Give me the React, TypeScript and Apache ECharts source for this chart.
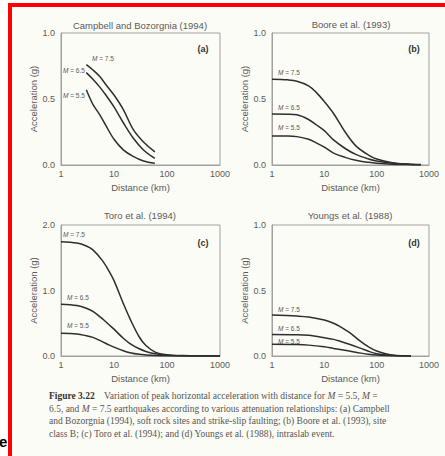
import React, { useEffect, useRef } from "react";
import * as echarts from "echarts";

// ---------- data ----------
const panelTitles = ["Campbell and Bozorgnia (1994)", "Boore et al. (1993)", "Toro et al. (1994)", "Youngs et al. (1988)"];
const panelLetters = ["(a)", "(b)", "(c)", "(d)"];
const magnitudes = ["7.5", "6.5", "5.5"];
const xTicks = [1, 10, 100, 1000];

// (a) Campbell and Bozorgnia (1994)
const cbDist = [3, 4, 5.4, 7, 10, 15, 23, 36, 59];
const cbM75 = [0.76, 0.72, 0.67, 0.61, 0.53, 0.42, 0.27, 0.175, 0.1];
const cbM65 = [0.7, 0.65, 0.59, 0.53, 0.44, 0.32, 0.205, 0.114, 0.05];
const cbM55 = [0.57, 0.46, 0.38, 0.3, 0.195, 0.115, 0.065, 0.03, 0.013];

// (b) Boore et al. (1993)
const boDist = [1, 2, 3, 5, 7, 10, 15, 25, 40, 70, 100, 200, 400, 700];
const boM75 = [0.65, 0.645, 0.635, 0.6, 0.55, 0.48, 0.39, 0.25, 0.145, 0.075, 0.045, 0.018, 0.007, 0.003];
const boM65 = [0.386, 0.385, 0.38, 0.345, 0.305, 0.26, 0.19, 0.125, 0.08, 0.045, 0.03, 0.014, 0.006, 0.002];
const boM55 = [0.22, 0.22, 0.215, 0.195, 0.168, 0.135, 0.09, 0.058, 0.036, 0.02, 0.013, 0.006, 0.003, 0.001];

// (c) Toro et al. (1994)
const toDist = [1, 2, 3, 4, 6, 8, 10, 15, 20, 30, 40, 60, 100, 200, 500, 1000];
const toM75 = [1.745, 1.725, 1.68, 1.62, 1.46, 1.3, 1.15, 0.8, 0.57, 0.29, 0.16, 0.06, 0.02, 0.006, 0.001, 0];
const toM65 = [0.79, 0.77, 0.73, 0.68, 0.57, 0.48, 0.41, 0.27, 0.19, 0.11, 0.07, 0.033, 0.012, 0.004, 0.001, 0];
const toM55 = [0.346, 0.335, 0.31, 0.285, 0.22, 0.17, 0.135, 0.08, 0.05, 0.025, 0.017, 0.009, 0.004, 0.001, 0, 0];

// (d) Youngs et al. (1988)
const yoDist = [1, 3, 5, 10, 15, 20, 30, 50, 70, 100, 150, 200, 300, 450];
const yoM75 = [0.313, 0.305, 0.298, 0.275, 0.25, 0.225, 0.18, 0.11, 0.07, 0.038, 0.017, 0.008, 0.002, 0];
const yoM65 = [0.165, 0.163, 0.158, 0.14, 0.127, 0.113, 0.09, 0.058, 0.036, 0.018, 0.008, 0.004, 0.001, 0];
const yoM55 = [0.089, 0.087, 0.083, 0.07, 0.058, 0.05, 0.038, 0.022, 0.013, 0.007, 0.003, 0.001, 0, 0];

const yMax = [1, 1, 2, 1];
const yInterval = [0.5, 0.5, 1, 0.5];

const captionLines = [
  "{b|Figure 3.22}    Variation of peak horizontal acceleration with distance for {i|M} = 5.5, {i|M} =",
  "6.5, and {i|M} = 7.5 earthquakes according to various attenuation relationships: (a) Campbell",
  "and Bozorgnia (1994), soft rock sites and strike-slip faulting; (b) Boore et al. (1993), site",
  "class B; (c) Toro et al. (1994); and (d) Youngs et al. (1988), intraslab event.",
];

const panels = [
  { dist: cbDist, curves: [cbM75, cbM65, cbM55] },
  { dist: boDist, curves: [boM75, boM65, boM55] },
  { dist: toDist, curves: [toM75, toM65, toM55] },
  { dist: yoDist, curves: [yoM75, yoM65, yoM55] },
];

// ---------- layout ----------
const grids = [
  { left: 61, top: 33, width: 159, height: 132 },
  { left: 272, top: 33, width: 157, height: 132 },
  { left: 61, top: 225, width: 159, height: 131 },
  { left: 272, top: 225, width: 157, height: 131 },
];
const titlePos = [
  [140, 25],
  [351, 24],
  [140, 215],
  [350, 215],
];
const letterPos = [
  [203, 49],
  [414, 49],
  [203, 243],
  [414, 243],
];
// label positions [x, y] (left, middle) for M = 7.5, 6.5, 5.5 in each panel
const mLabelPos = [
  [[92, 58], [63, 70], [63, 95]],
  [[278, 72], [278, 107], [278, 127]],
  [[63, 234], [67, 297], [67, 325]],
  [[278, 309], [278, 328], [278, 341]],
];

const SANS = "'Liberation Sans', Arial, Helvetica, sans-serif";
const SERIF = "'Liberation Serif', 'Times New Roman', serif";
const TXT = "#5a5a5a";
const CAP = 9.5;

export default function App() {
  const ref = useRef<HTMLDivElement>(null);
  useEffect(() => {
    if (!ref.current) return;
    const chart = echarts.init(ref.current, undefined, { renderer: "svg" });

    const xAxis = grids.map((_, i) => ({
      gridIndex: i,
      type: "log",
      logBase: 10,
      min: 1,
      max: 1000,
      name: "Distance (km)",
      nameLocation: "middle",
      nameGap: 17,
      nameTextStyle: { color: TXT, fontSize: 9.5, fontFamily: SANS },
      axisLine: { lineStyle: { color: "#a0a0a0", width: 1 } },
      axisTick: { show: false },
      minorTick: { show: false },
      splitLine: { show: false },
      axisLabel: {
        color: TXT,
        fontSize: 9,
        fontFamily: SANS,
        margin: 4,
        showMaxLabel: true,
        showMinLabel: true,
        formatter: (v: number) => (xTicks.includes(Math.round(v)) ? String(Math.round(v)) : ""),
      },
    }));

    const yAxis = grids.map((_, i) => ({
      gridIndex: i,
      type: "value",
      min: 0,
      max: yMax[i],
      interval: yInterval[i],
      name: "Acceleration (g)",
      nameLocation: "middle",
      nameRotate: 90,
      nameGap: 21,
      nameTextStyle: { color: TXT, fontSize: 9.5, fontFamily: SANS },
      axisLine: { show: true, lineStyle: { color: "#a0a0a0", width: 1 } },
      axisTick: { show: false },
      splitLine: { show: false },
      axisLabel: {
        color: TXT,
        fontSize: 9,
        fontFamily: SANS,
        margin: 6,
        formatter: (v: number) => v.toFixed(1),
      },
    }));

    const series: any[] = [];
    panels.forEach((p, i) => {
      p.curves.forEach((c, k) => {
        series.push({
          type: "line",
          name: `${panelLetters[i]} M=${magnitudes[k]}`,
          xAxisIndex: i,
          yAxisIndex: i,
          data: p.dist.map((d, j) => [d, c[j]]),
          showSymbol: false,
          smooth: 0.35,
          lineStyle: { color: "#2e2e2e", width: 1.5 },
          silent: true,
        });
      });
    });

    const graphic: any[] = [
      { type: "rect", z: -20, shape: { x: 12, y: 7, width: 433, height: 449 }, style: { fill: "#fcfcf6" } },
      { type: "rect", z: 10, shape: { x: 8, y: 3, width: 4, height: 453 }, style: { fill: "#ff0000" } },
      { type: "rect", z: 10, shape: { x: 8, y: 3, width: 437, height: 4 }, style: { fill: "#ff0000" } },
      {
        type: "text",
        z: 10,
        style: { x: -1, y: 441, text: "e", font: `bold 15px ${SANS}`, fill: "#000", verticalAlign: "middle" },
      },
    ];
    panelTitles.forEach((t, i) => {
      graphic.push({
        type: "text",
        style: {
          x: titlePos[i][0],
          y: titlePos[i][1],
          text: t,
          font: `9.5px ${SANS}`,
          fill: TXT,
          align: "center",
          verticalAlign: "middle",
        },
      });
      graphic.push({
        type: "text",
        style: {
          x: letterPos[i][0],
          y: letterPos[i][1],
          text: panelLetters[i],
          font: `bold 9px ${SANS}`,
          fill: "#333",
          align: "center",
          verticalAlign: "middle",
        },
      });
      magnitudes.forEach((m, k) => {
        graphic.push({
          type: "text",
          style: {
            x: mLabelPos[i][k][0],
            y: mLabelPos[i][k][1],
            text: `{i|M} = ${m}`,
            font: `6.5px ${SANS}`,
            fill: TXT,
            verticalAlign: "middle",
            rich: {
              i: { fontStyle: "italic", fontSize: 6.5, fontFamily: SANS, fill: TXT },
            },
          },
        });
      });
    });
    const capY = [396, 408.5, 421, 433.5];
    captionLines.forEach((line, i) => {
      graphic.push({
        type: "text",
        style: {
          x: 49,
          y: capY[i],
          text: line,
          font: `${CAP}px ${SERIF}`,
          fill: "#555",
          verticalAlign: "middle",
          rich: {
            b: { fontWeight: "bold", fontSize: CAP, fontFamily: SERIF, fill: "#333" },
            i: { fontStyle: "italic", fontSize: CAP, fontFamily: SERIF, fill: "#555" },
          },
        },
      });
    });

    chart.setOption({
      animation: false,
      backgroundColor: "#ffffff",
      grid: grids.map((g) => ({ ...g, show: true, borderColor: "#a0a0a0", borderWidth: 1, backgroundColor: "transparent" })),
      xAxis,
      yAxis,
      series,
      graphic,
    } as any);

    return () => chart.dispose();
  }, []);

  return (
    <div
      ref={ref}
      style={{ position: "fixed", left: 0, top: 0, width: 445, height: 456 }}
    />
  );
}
